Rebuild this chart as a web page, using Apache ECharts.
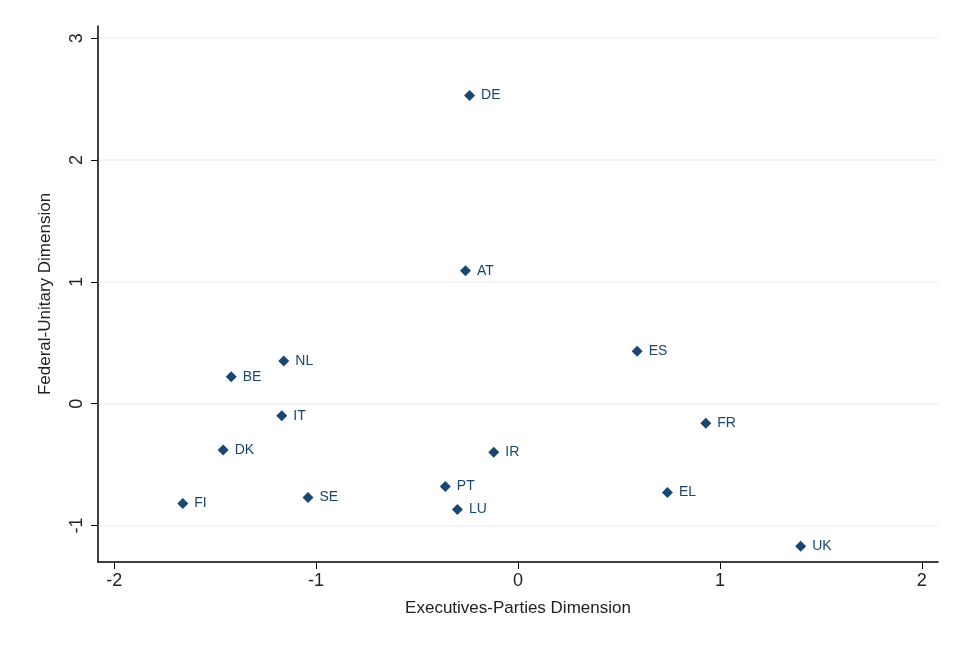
<!DOCTYPE html>
<html>
<head>
<meta charset="utf-8">
<script src="https://cdn.jsdelivr.net/npm/echarts@6/dist/echarts.min.js"></script>
<style>
html,body{margin:0;padding:0;background:#fff;}
#chart{width:962px;height:647px;}
</style>
</head>
<body>
<div id="chart"></div>
<script>
var countries = ['DE','AT','ES','NL','BE','IT','FR','DK','IR','PT','EL','SE','FI','LU','UK'];
var execParties = [-0.24,-0.26,0.59,-1.16,-1.42,-1.17,0.93,-1.46,-0.12,-0.36,0.74,-1.04,-1.66,-0.30,1.40];
var fedUnitary = [2.53,1.09,0.43,0.35,0.22,-0.10,-0.16,-0.38,-0.40,-0.68,-0.73,-0.77,-0.82,-0.87,-1.17];
var xTicks = [-2,-1,0,1,2];
var yTicks = [-1,0,1,2,3];

var chart = echarts.init(document.getElementById('chart'));
var pts = [];
for (var i = 0; i < countries.length; i++) {
	pts.push({value:[execParties[i], fedUnitary[i]], name:countries[i]});
}
var font = 'Liberation Sans';
chart.setOption({
	animation:false,
	grid:{left:98, right:24, top:26, bottom:85},
	xAxis:{
		type:'value', min:-2.08, max:2.08,
		name:'Executives-Parties Dimension', nameLocation:'middle', nameGap:38,
		nameTextStyle:{fontFamily:font, fontSize:17, color:'#222'},
		axisLine:{show:true, onZero:false, lineStyle:{color:'#000', width:1.5}},
		axisTick:{show:true, length:7, customValues:xTicks, lineStyle:{color:'#000'}},
		axisLabel:{customValues:xTicks, fontFamily:font, fontSize:18, color:'#222', margin:10},
		splitLine:{show:false}
	},
	yAxis:{
		type:'value', min:-1.3, max:3.1,
		name:'Federal-Unitary Dimension', nameLocation:'middle', nameGap:44,
		nameTextStyle:{fontFamily:font, fontSize:17, color:'#222'},
		axisLine:{show:true, onZero:false, lineStyle:{color:'#000', width:1.5}},
		axisTick:{show:true, length:7, customValues:yTicks, lineStyle:{color:'#000'}},
		axisLabel:{customValues:yTicks, rotate:90, fontFamily:font, fontSize:18, color:'#222', margin:12},
		splitLine:{show:true, lineStyle:{color:'#edf1f6', width:1.5}}
	},
	series:[{
		type:'scatter',
		symbol:'diamond',
		symbolSize:[11,11],
		itemStyle:{color:'#1a476f', opacity:1},
		label:{show:true, position:'right', distance:6, formatter:'{b}', fontFamily:font, fontSize:14, color:'#1a476f'},
		data:pts
	}]
});
</script>
</body>
</html>
